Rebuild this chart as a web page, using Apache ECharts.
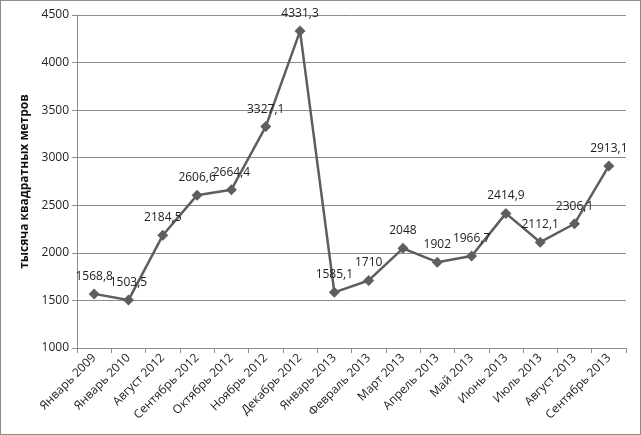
<!DOCTYPE html>
<html>
<head>
<meta charset="utf-8">
<script src="https://cdn.jsdelivr.net/npm/echarts@6/dist/echarts.min.js"></script>
<style>
html,body{margin:0;padding:0;background:#fff;}
#mainChart{width:639px;height:433px;border:1px solid #8c8c8c;}
</style>
</head>
<body>
<div id="mainChart"></div>
<script>
var categories = ["Январь 2009", "Январь 2010", "Август 2012", "Сентябрь 2012", "Октябрь 2012", "Ноябрь 2012", "Декабрь 2012", "Январь 2013", "Февраль 2013", "Март 2013", "Апрель 2013", "Май 2013", "Июнь 2013", "Июль 2013", "Август 2013", "Сентябрь 2013"];
var values = [1568.8, 1503.5, 2184.5, 2606.6, 2664.4, 3327.1, 4331.3, 1585.1, 1710, 2048, 1902, 1966.7, 2414.9, 2112.1, 2306.1, 2913.1];
var yTicks = [1000, 1500, 2000, 2500, 3000, 3500, 4000, 4500];

var myChart = echarts.init(document.getElementById("mainChart"));
var font = "'Open Sans', 'Liberation Sans', sans-serif";

var option = {
    animation: false,
    grid: {
        left: 76,
        right: 14,
        top: 14,
        bottom: 86
    },
    xAxis: {
        type: "category",
        data: categories,
        boundaryGap: true,
        axisLine: {lineStyle: {color: "#8c8c8c"}},
        axisTick: {show: true, length: 5, lineStyle: {color: "#8c8c8c"}},
        axisLabel: {
            rotate: 45,
            interval: 0,
            color: "#222",
            fontFamily: font,
            fontSize: 12,
            margin: 8
        }
    },
    yAxis: {
        type: "value",
        min: yTicks[0],
        max: yTicks[yTicks.length - 1],
        interval: 500,
        name: "тысяча квадратных метров",
        nameLocation: "middle",
        nameGap: 44,
        nameTextStyle: {
            fontWeight: "bold",
            fontFamily: font,
            fontSize: 12,
            color: "#111"
        },
        axisLine: {show: true, lineStyle: {color: "#8c8c8c"}},
        axisTick: {show: true, length: 5, lineStyle: {color: "#8c8c8c"}},
        axisLabel: {
            color: "#222",
            fontFamily: font,
            fontSize: 12,
            formatter: function (v) { return String(v); }
        },
        splitLine: {lineStyle: {color: "#8c8c8c"}}
    },
    series: [{
        type: "line",
        data: values,
        symbol: "diamond",
        symbolSize: 11,
        lineStyle: {color: "#5e5e5e", width: 2.5},
        itemStyle: {color: "#5e5e5e"},
        label: {
            show: true,
            position: "top",
            distance: 6,
            color: "#222",
            fontFamily: font,
            fontSize: 12,
            formatter: function (p) {
                return String(p.value).replace(".", ",");
            }
        }
    }]
};

myChart.setOption(option);
</script>
</body>
</html>
